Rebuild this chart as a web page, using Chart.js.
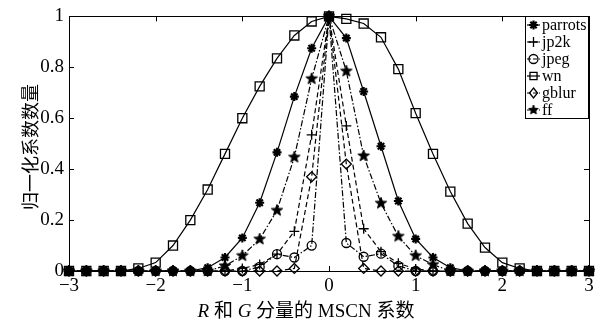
<!DOCTYPE html>
<html><head><meta charset="utf-8">
<script src="https://cdn.jsdelivr.net/npm/chart.js@4/dist/chart.umd.min.js"></script>
<style>html,body{margin:0;padding:0;background:#fff}</style>
</head><body>
<canvas id="c" width="600" height="326"></canvas>
<script>
// ---- data ----
const xValues = [-3.0,-2.8,-2.6,-2.4,-2.2,-2.0,-1.8,-1.6,-1.4,-1.2,-1.0,-0.8,-0.6,-0.4,-0.2,0.0,0.2,0.4,0.6,0.8,1.0,1.2,1.4,1.6,1.8,2.0,2.2,2.4,2.6,2.8,3.0];
const parrots = [0,0,0,0,0,0,0,0,0.013,0.053,0.13,0.268,0.466,0.685,0.875,1,0.915,0.705,0.49,0.275,0.126,0.053,0.013,0,0,0,0,0,0,0,0];
const jp2k    = [0,0,0,0,0,0,0,0,0,0,0.01,0.026,0.066,0.156,0.535,1,0.57,0.166,0.076,0.03,0.008,0,0,0,0,0,0,0,0,0,0];
const jpeg    = [0,0,0,0,0,0,0,0,0,0,0,0.016,0.066,0.053,0.1,1,0.11,0.056,0.068,0.02,0,0,0,0,0,0,0,0,0,0,0];
const wn      = [0,0,0,0,0.01,0.033,0.1,0.2,0.32,0.46,0.6,0.725,0.835,0.925,0.98,1,0.99,0.972,0.918,0.793,0.62,0.46,0.312,0.186,0.092,0.033,0.01,0,0,0,0];
const gblur   = [0,0,0,0,0,0,0,0,0,0,0,0,0,0.01,0.37,1,0.42,0.01,0,0,0,0,0,0,0,0,0,0,0,0,0];
const ff      = [0,0,0,0,0,0,0,0,0,0.02,0.06,0.125,0.238,0.447,0.755,1,0.785,0.452,0.266,0.136,0.06,0.025,0,0,0,0,0,0,0,0,0];
const seriesNames = ['parrots','jp2k','jpeg','wn','gblur','ff'];
const xTicks = [-3,-2,-1,0,1,2,3];
const yTicks = [0,0.2,0.4,0.6,0.8,1];
const yTitle = '归一化系数数量';
const xTitleParts = [['R',true],[' 和 ',false],['G',true],[' 分量的 MSCN 系数',false]];

// ---- star marker image ----
function makeStar(R){
  const s = Math.ceil(R*2+2), c = document.createElement('canvas');
  c.width = s; c.height = s;
  const g = c.getContext('2d');
  g.beginPath();
  for(let i=0;i<10;i++){
    const r = i%2===0 ? R : R*0.42;
    const a = -Math.PI/2 + i*Math.PI/5;
    const px = s/2 + r*Math.cos(a), py = s/2 + r*Math.sin(a);
    i===0 ? g.moveTo(px,py) : g.lineTo(px,py);
  }
  g.closePath(); g.fillStyle='#000'; g.fill();
  g.lineWidth=1; g.strokeStyle='#000'; g.stroke();
  return c;
}
const starImg = makeStar(6);
const starImgSmall = makeStar(5);

const FONT = '"Liberation Serif","Times New Roman",serif';
const CJK = '"Liberation Serif","Noto Sans CJK SC",serif';

const styles = [
  {data: parrots, pointStyle:'star', radius:4.5, pbw:2.2, dash:[]},
  {data: jp2k, pointStyle:'cross', radius:5, pbw:1.3, dash:[5,3]},
  {data: jpeg, pointStyle:'circle', radius:4.5, pbw:1.3, dash:[6,2,1.5,2]},
  {data: wn, pointStyle:'rect', radius:6.4, pbw:1.3, dash:[]},
  {data: gblur, pointStyle:'rectRot', radius:5, pbw:1.3, dash:[5,3]},
  {data: ff, pointStyle:starImg, radius:6, pbw:1, dash:[6,2,1.5,2]},
];

const datasets = styles.map((s,i)=>({
  label: seriesNames[i],
  data: xValues.map((x,k)=>({x:x, y:s.data[k]})),
  borderColor:'#000', borderWidth:1.2, borderDash:s.dash,
  pointStyle:s.pointStyle, pointRadius:s.radius, pointHoverRadius:s.radius,
  pointBorderColor:'#000', pointBorderWidth:s.pbw,
  pointBackgroundColor: (s.pointStyle===starImg||s.pointStyle==='star') ? '#000' : 'rgba(0,0,0,0)',
  tension:0, clip:false, fill:false
}));

function drawMarker(ctx, st, x, y, r){
  ctx.save(); ctx.setLineDash([]); ctx.strokeStyle='#000'; ctx.fillStyle='#000';
  ctx.lineWidth = st.pbw;
  ctx.beginPath();
  if (st.pointStyle === starImg){ ctx.drawImage(starImgSmall, x-starImgSmall.width/2, y-starImgSmall.height/2); ctx.restore(); return; }
  switch(st.pointStyle){
    case 'star':
      for (let k=0;k<4;k++){ const a=k*Math.PI/4; ctx.moveTo(x-r*Math.cos(a),y-r*Math.sin(a)); ctx.lineTo(x+r*Math.cos(a),y+r*Math.sin(a)); }
      ctx.stroke(); break;
    case 'cross':
      ctx.moveTo(x-r,y); ctx.lineTo(x+r,y); ctx.moveTo(x,y-r); ctx.lineTo(x,y+r); ctx.stroke(); break;
    case 'circle':
      ctx.arc(x,y,r,0,Math.PI*2); ctx.stroke(); break;
    case 'rect': { const h=r*Math.SQRT1_2; ctx.rect(x-h,y-h,2*h,2*h); ctx.stroke(); break; }
    case 'rectRot':
      ctx.moveTo(x,y-r); ctx.lineTo(x+r*0.8,y); ctx.lineTo(x,y+r); ctx.lineTo(x-r*0.8,y); ctx.closePath(); ctx.stroke(); break;
  }
  ctx.restore();
}

const decor = {
  id:'decor',
  afterDatasetsDraw(chart){
    const ctx = chart.ctx, a = chart.chartArea;
    const xs = chart.scales.x, ys = chart.scales.y;
    ctx.save();
    ctx.strokeStyle='#000'; ctx.lineWidth=1; ctx.setLineDash([]);
    ctx.strokeRect(Math.round(a.left)+0.5, Math.round(a.top)+0.5, Math.round(a.right-a.left), Math.round(a.bottom-a.top));
    const L=5;
    ctx.beginPath();
    xTicks.forEach(v=>{ const px=Math.round(xs.getPixelForValue(v))+0.5;
      ctx.moveTo(px,a.bottom); ctx.lineTo(px,a.bottom-L); ctx.moveTo(px,a.top); ctx.lineTo(px,a.top+L); });
    yTicks.forEach(v=>{ const py=Math.round(ys.getPixelForValue(v))+0.5;
      ctx.moveTo(a.left,py); ctx.lineTo(a.left+L,py); ctx.moveTo(a.right,py); ctx.lineTo(a.right-L,py); });
    ctx.stroke();

    // legend box
    const bx=525.5, by=16.5, bw=63, bh=102;
    ctx.fillStyle='#fff'; ctx.fillRect(bx,by,bw,bh);
    ctx.strokeRect(bx,by,bw,bh);
    ctx.font = '16px '+FONT; ctx.textBaseline='middle'; ctx.textAlign='left';
    styles.forEach((s,i)=>{
      const ry = 25 + i*17;
      ctx.save(); ctx.lineWidth=1.2; ctx.setLineDash(s.dash.length? [4,2] : []);
      ctx.beginPath(); ctx.moveTo(527,ry); ctx.lineTo(540,ry); ctx.stroke(); ctx.restore();
      drawMarker(ctx, s, 533.5, ry, Math.min(s.radius,5));
      ctx.fillStyle='#000'; ctx.fillText(seriesNames[i], 542, ry+1);
    });

    // y title
    ctx.save();
    ctx.translate(30,147); ctx.rotate(-Math.PI/2);
    ctx.font='18px "Noto Sans CJK SC"'; ctx.textAlign='center'; ctx.textBaseline='middle';
    ctx.fillStyle='#000'; ctx.fillText(yTitle,0,0);
    ctx.restore();

    // x title with italic parts
    ctx.textBaseline='middle'; ctx.textAlign='left'; ctx.fillStyle='#000';
    const fonts = xTitleParts.map(p=> (p[1]?'italic ':'') + '19px ' + CJK);
    let total=0; const widths = xTitleParts.map((p,i)=>{ ctx.font=fonts[i]; const w=ctx.measureText(p[0]).width; total+=w; return w; });
    let cx = 306 - total/2;
    xTitleParts.forEach((p,i)=>{ ctx.font=fonts[i]; ctx.fillText(p[0],cx,312); cx+=widths[i]; });
    ctx.restore();
  }
};

const fmt = v => { const s = String(Math.round(v*10)/10); return s.replace('-','\u2212'); };

new Chart(document.getElementById('c'), {
  type:'line',
  data:{ datasets },
  options:{
    responsive:false, animation:false, devicePixelRatio:1,
    layout:{ padding:{ top:16, right:11, left:0, bottom:0 } },
    plugins:{ legend:{display:false}, tooltip:{enabled:false} },
    scales:{
      x:{ type:'linear', min:-3, max:3,
        afterFit: s=>{ s.height = 55; },
        afterBuildTicks: s=>{ s.ticks = xTicks.map(v=>({value:v})); },
        grid:{ display:false, drawTicks:false }, border:{display:false},
        ticks:{ padding:4, color:'#000', font:{family:FONT, size:19}, maxRotation:0, autoSkip:false, callback:fmt } },
      y:{ type:'linear', min:0, max:1,
        afterFit: s=>{ s.width = 69; },
        afterBuildTicks: s=>{ s.ticks = yTicks.map(v=>({value:v})); },
        grid:{ display:false, drawTicks:false }, border:{display:false},
        ticks:{ padding:5, color:'#000', font:{family:FONT, size:19}, autoSkip:false, callback:v=>String(Math.round(v*10)/10) } }
    }
  },
  plugins:[decor]
});
</script>
</body></html>
